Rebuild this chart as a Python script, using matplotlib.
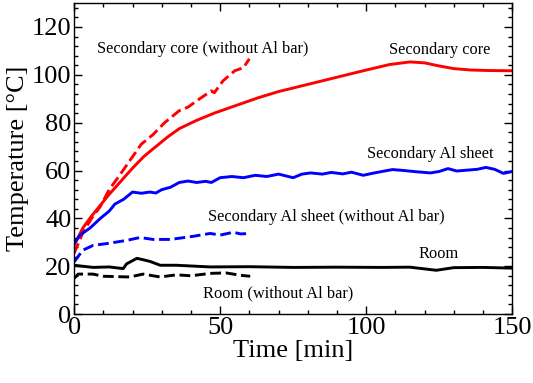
import numpy as np
import matplotlib.pyplot as plt
from matplotlib.ticker import MultipleLocator

plt.rcParams['font.family'] = ['Liberation Serif', 'DejaVu Serif']

# secondary core (with Al bar)
t_core = [0, 3, 6, 9, 12, 16, 20, 24, 28, 32, 36, 42, 48, 55, 63, 70, 80, 90,
          100, 108, 115, 120, 125, 130, 136, 142, 150]
T_core = [28.7, 36, 41, 45.5, 50, 55.5, 61, 66, 70, 74, 77.5, 81, 84, 87, 90.4,
          93, 96, 99, 102, 104.3, 105.4, 105, 103.7, 102.6, 102, 101.8, 101.7]

# secondary core without Al bar
t_core_wo = [0, 3, 6, 9, 12, 15, 19, 23, 27, 31, 34, 36, 39, 43, 47, 48, 51, 55, 58, 60]
T_core_wo = [25.4, 34, 40, 45, 52, 57, 64, 71, 75, 80, 83, 85, 86.5, 90, 93.3, 92.5,
             97.5, 101.7, 103, 106.7]

# secondary Al sheet
t_al = [0, 2, 5.5, 9, 12, 14, 17, 20, 23, 26, 28, 30, 33, 36, 39, 42, 45, 47, 50,
        54, 58, 62, 66, 70, 75, 78, 81, 85, 88, 92, 95, 99, 102, 105, 109, 113,
        117, 122, 125, 128, 131, 135, 138, 141, 144, 147, 150]
T_al = [29.5, 33, 36, 40, 43, 46, 48, 51, 50.5, 51, 50.6, 52, 53, 55, 55.6, 55,
        55.5, 55, 57, 57.5, 57, 58, 57.5, 58.5, 57, 58.5, 59, 58.5, 59.2, 58.6,
        59.3, 58, 58.8, 59.5, 60.4, 60, 59.5, 59, 59.6, 60.8, 59.8, 60.2, 60.5,
        61.3, 60.5, 58.8, 59.6]

# secondary Al sheet without Al bar
t_al_wo = [0, 3, 6.5, 12, 18, 22.6, 27, 33, 40.8, 46.6, 50, 54.5, 57, 60.3]
T_al_wo = [21.8, 26.7, 28.7, 29.6, 30.8, 32, 31.2, 31.2, 32.5, 33.7, 33, 34.2, 33.5, 33.7]

# room
t_room = [0, 6.5, 12, 16.8, 18, 21.5, 24, 26, 29.5, 35, 46.6, 60, 75, 90, 105,
          115, 124, 130, 140, 150]
T_room = [20.4, 19.5, 19.7, 19, 21, 23.3, 22.6, 22, 20.4, 20.4, 19.7, 19.8, 19.5,
          19.6, 19.5, 19.6, 18.3, 19.4, 19.5, 19.2]

# room without Al bar
t_room_wo = [0, 1.4, 6.5, 10, 19, 23.6, 29.5, 35, 40, 46.6, 52, 57, 60.3]
T_room_wo = [14.9, 16.7, 16.7, 15.8, 15.5, 16.7, 15.5, 16.4, 16, 17, 17.2, 16.2, 15.8]

fig = plt.figure(figsize=(5.33, 3.83), dpi=100)
ax = fig.add_axes([0.139, 0.180, 0.822, 0.812])

lw = 2.1
ax.plot(t_core, T_core, color='#ff0000', lw=lw)
ax.plot(t_core_wo, T_core_wo, color='#ff0000', lw=lw, ls='--')
ax.plot(t_al, T_al, color='#0000ff', lw=lw)
ax.plot(t_al_wo, T_al_wo, color='#0000ff', lw=lw, ls='--')
ax.plot(t_room, T_room, color='black', lw=lw)
ax.plot(t_room_wo, T_room_wo, color='black', lw=lw, ls='--')

fs = 11.8
ax.text(7.9, 110.8, 'Secondary core (without Al bar)', fontsize=fs, va='center')
ax.text(125, 110.5, 'Secondary core', fontsize=fs, va='center', ha='center')
ax.text(122, 67, 'Secondary Al sheet', fontsize=fs, va='center', ha='center')
ax.text(45.9, 40.4, 'Secondary Al sheet (without Al bar)', fontsize=fs, va='center')
ax.text(124.7, 25, 'Room', fontsize=fs, va='center', ha='center')
ax.text(44.2, 8.75, 'Room (without Al bar)', fontsize=fs, va='center')

ax.set_xlim(0, 150)
ax.set_ylim(0, 130)
ax.xaxis.set_major_locator(MultipleLocator(50))
ax.xaxis.set_minor_locator(MultipleLocator(10))
ax.yaxis.set_major_locator(MultipleLocator(20))
ax.yaxis.set_minor_locator(MultipleLocator(4))
ax.tick_params(which='both', direction='in', top=True, right=True, width=1)
ax.tick_params(which='major', length=6, labelsize=19, pad=2)
ax.tick_params(which='minor', length=3)
for s in ax.spines.values():
    s.set_linewidth(1)

ax.set_xlabel('Time [min]', fontsize=19, labelpad=1)
ax.set_ylabel('Temperature [°C]', fontsize=19, labelpad=2)

fig.savefig('out.png', dpi=100)
